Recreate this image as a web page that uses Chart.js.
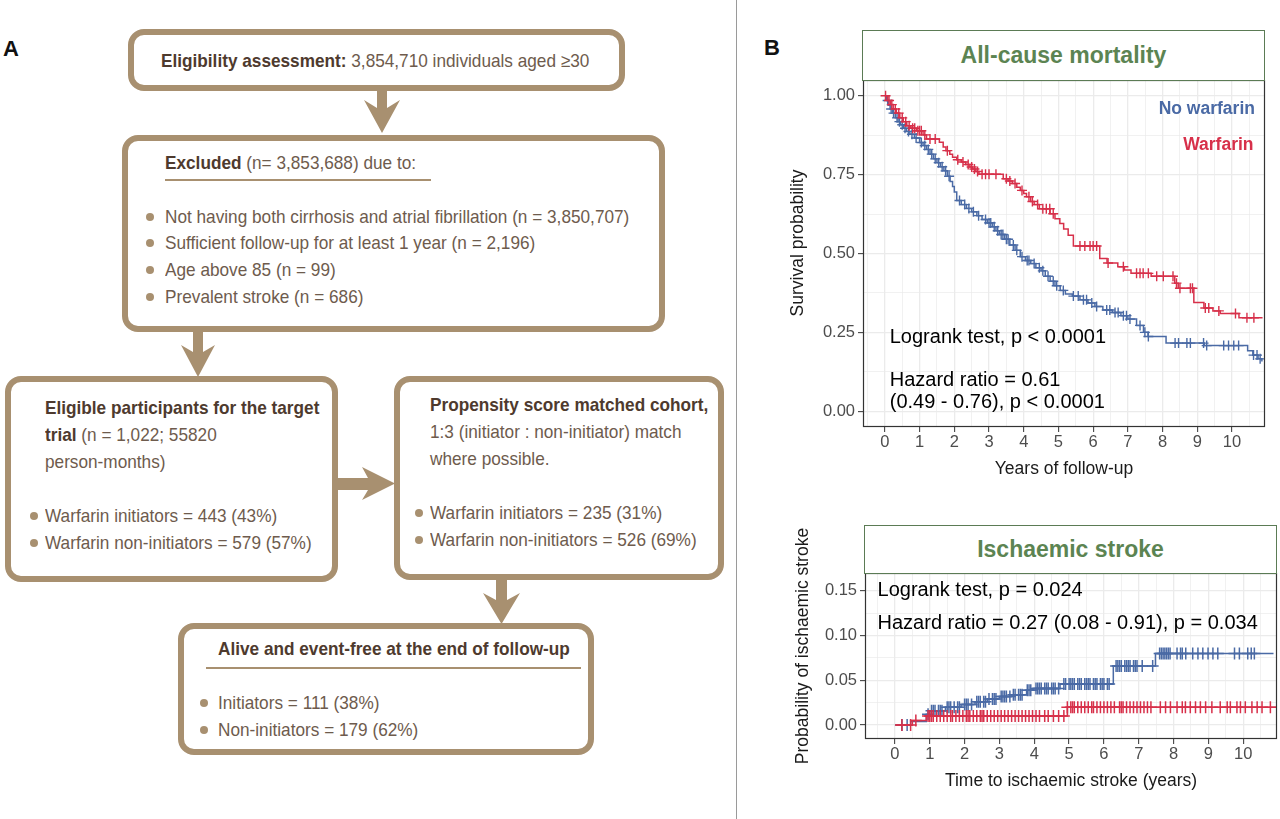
<!DOCTYPE html>
<html>
<head>
<meta charset="utf-8">
<script src="https://cdn.jsdelivr.net/npm/chart.js@4.4.1/dist/chart.umd.min.js"></script>
<style>
html, body { margin: 0; padding: 0; background: #fff; }
#page { position: relative; width: 1280px; height: 819px; overflow: hidden; font-family: "Liberation Sans", Arial, sans-serif; }
.box { position: absolute; box-sizing: border-box; border: 6px solid #a89070; border-radius: 16px; background: #fff; }
.t { position: absolute; white-space: nowrap; font-family: "Liberation Sans", Arial, sans-serif; font-size: 18.5px; line-height: 22px; color: #6e5b4d; transform: scaleX(0.93); transform-origin: 0 0; }
.t b { color: #4e3a2e; }
.dot { position: absolute; width: 8px; height: 8px; border-radius: 50%; background: #a89070; }
.rule { position: absolute; height: 2px; background: #a89070; }
.strip { position: absolute; box-sizing: border-box; border: 1.5px solid #5b7b55; background: #fff; color: #5c8452; font-weight: bold; font-size: 23px; text-align: center; }
.ytitle { position: absolute; white-space: nowrap; font-size: 17.5px; color: #1a1a1a; transform: translate(-50%, -50%) rotate(-90deg); }
.panel { position: absolute; font: bold 22px "Liberation Sans", Arial, sans-serif; line-height: 24px; color: #111; }
</style>
</head>
<body>
<div id="page">
  <div style="position:absolute;left:736px;top:0;width:1px;height:819px;background:#9a9a9a"></div>
  <div class="panel" style="left:3px;top:37px">A</div>
  <div class="panel" style="left:764px;top:36px">B</div>

  <svg style="position:absolute;left:0;top:0" width="740" height="819">
    <g fill="#a89070">
      <polygon points="377,88 377,108 364,100 382,133 400,100 387,108 387,88"/>
      <polygon points="193,329 193,352 181,345 198,377 215,345 203,352 203,329"/>
      <polygon points="336,478 368,478 362,467 395,483.5 362,500 368,490 336,490"/>
      <polygon points="496,578 496,600 483,593 501.5,624 520,593 507,600 507,578"/>
    </g>
  </svg>

  <div class="box" style="left:128px;top:29px;width:497px;height:62px"></div>
  <div class="t" style="left:161px;top:50px"><b>Eligibility assessment:</b> 3,854,710 individuals aged ≥30</div>

  <div class="box" style="left:122px;top:135px;width:543px;height:197px"></div>
  <div class="t" style="left:165px;top:152px"><b>Excluded</b> (n= 3,853,688) due to:</div>
  <div class="rule" style="left:165px;top:179px;width:266px"></div>
  <div class="dot" style="left:146px;top:213px"></div>
  <div class="t" style="left:165px;top:206px">Not having both cirrhosis and atrial fibrillation (n = 3,850,707)</div>
  <div class="dot" style="left:146px;top:239px"></div>
  <div class="t" style="left:165px;top:232px">Sufficient follow-up for at least 1 year (n = 2,196)</div>
  <div class="dot" style="left:146px;top:266px"></div>
  <div class="t" style="left:165px;top:259px">Age above 85 (n = 99)</div>
  <div class="dot" style="left:146px;top:293px"></div>
  <div class="t" style="left:165px;top:286px">Prevalent stroke (n = 686)</div>

  <div class="box" style="left:5px;top:376px;width:333px;height:206px"></div>
  <div class="t" style="left:45px;top:397px"><b>Eligible participants for the target</b></div>
  <div class="t" style="left:45px;top:424px"><b>trial</b> (n = 1,022; 55820</div>
  <div class="t" style="left:45px;top:451px">person-months)</div>
  <div class="dot" style="left:30px;top:512px"></div>
  <div class="t" style="left:45px;top:505px">Warfarin initiators = 443 (43%)</div>
  <div class="dot" style="left:30px;top:539px"></div>
  <div class="t" style="left:45px;top:532px">Warfarin non-initiators = 579 (57%)</div>

  <div class="box" style="left:394px;top:376px;width:330px;height:204px"></div>
  <div class="t" style="left:430px;top:394px"><b>Propensity score matched cohort,</b></div>
  <div class="t" style="left:430px;top:421px">1:3 (initiator : non-initiator) match</div>
  <div class="t" style="left:430px;top:448px">where possible.</div>
  <div class="dot" style="left:415px;top:509px"></div>
  <div class="t" style="left:430px;top:502px">Warfarin initiators = 235 (31%)</div>
  <div class="dot" style="left:415px;top:536px"></div>
  <div class="t" style="left:430px;top:529px">Warfarin non-initiators = 526 (69%)</div>

  <div class="box" style="left:178px;top:623px;width:416px;height:132px"></div>
  <div class="t" style="left:218px;top:638px"><b>Alive and event-free at the end of follow-up</b></div>
  <div class="rule" style="left:206px;top:667px;width:375px"></div>
  <div class="dot" style="left:200px;top:699px"></div>
  <div class="t" style="left:218px;top:692px">Initiators = 111 (38%)</div>
  <div class="dot" style="left:200px;top:726px"></div>
  <div class="t" style="left:218px;top:719px">Non-initiators = 179 (62%)</div>

  <div style="position:absolute;left:780px;top:80px;width:500px;height:404px"><canvas id="mortalityChart"></canvas></div>
  <div style="position:absolute;left:780px;top:573px;width:500px;height:223px"><canvas id="strokeChart"></canvas></div>

  <div class="strip" style="left:862px;top:30px;width:403px;height:51px;line-height:48px">All-cause mortality</div>
  <div class="strip" style="left:864px;top:525px;width:413px;height:49px;line-height:46px">Ischaemic stroke</div>
  <div class="ytitle" style="left:797px;top:243px">Survival probability</div>
  <div class="ytitle" style="left:802px;top:646px">Probability of ischaemic stroke</div>
</div>

<script>
// tick labels
const yearTicks = [0, 1, 2, 3, 4, 5, 6, 7, 8, 9, 10];
const survivalTicks = [0, 0.25, 0.5, 0.75, 1];
const strokeTicks = [0, 0.05, 0.1, 0.15];

const blue = '#4a6aa5';
const red = '#d7304a';

// all-cause mortality, no warfarin: step times (years) and survival
const mortNoWarfarinTime = [0, 0.05, 0.1, 0.15, 0.22, 0.3, 0.38, 0.45, 0.53, 0.62, 0.72, 0.85, 1.0, 1.1, 1.2, 1.3, 1.4, 1.5, 1.6, 1.7, 1.8, 1.88, 1.95, 2.0, 2.07, 2.2, 2.35, 2.5, 2.65, 2.8, 2.95, 3.1, 3.2, 3.3, 3.45, 3.6, 3.75, 3.9, 4.05, 4.2, 4.35, 4.5, 4.62, 4.76, 4.9, 5.05, 5.2, 5.4, 5.62, 5.85, 6.05, 6.28, 6.55, 6.8, 7.0, 7.25, 7.45, 7.58, 8.1, 9.2, 10.45, 10.6, 10.75, 10.86];
const mortNoWarfarinSurv = [1.0, 0.985, 0.97, 0.958, 0.945, 0.93, 0.918, 0.908, 0.897, 0.887, 0.878, 0.866, 0.852, 0.842, 0.83, 0.815, 0.8, 0.788, 0.775, 0.762, 0.745, 0.728, 0.712, 0.695, 0.668, 0.655, 0.643, 0.632, 0.62, 0.608, 0.597, 0.585, 0.572, 0.56, 0.545, 0.527, 0.51, 0.49, 0.478, 0.468, 0.455, 0.445, 0.428, 0.412, 0.398, 0.383, 0.372, 0.365, 0.353, 0.343, 0.332, 0.321, 0.313, 0.303, 0.292, 0.272, 0.25, 0.237, 0.216, 0.208, 0.192, 0.178, 0.166, 0.158];
const mortNoWarfarinCensor = [0.08, 0.18, 0.25, 0.35, 0.42, 0.5, 0.58, 0.68, 0.78, 0.9, 1.05, 1.15, 1.25, 1.35, 1.45, 1.55, 1.65, 1.75, 1.85, 2.15, 2.3, 2.42, 2.55, 2.7, 2.9, 3.0, 3.05, 3.15, 3.25, 3.35, 3.4, 3.5, 3.55, 3.7, 3.8, 3.95, 4.1, 4.15, 4.3, 4.45, 4.55, 4.7, 4.85, 4.95, 5.14, 5.43, 5.57, 5.72, 5.81, 5.96, 6.1, 6.39, 6.48, 6.63, 6.72, 6.87, 6.96, 7.06, 7.35, 7.49, 7.59, 8.36, 8.46, 8.7, 8.8, 9.18, 9.27, 9.76, 9.9, 10.05, 10.19, 10.62, 10.72, 10.81];

// all-cause mortality, warfarin
const mortWarfarinTime = [0, 0.08, 0.16, 0.24, 0.33, 0.43, 0.53, 0.63, 0.75, 0.91, 1.1, 1.2, 1.57, 1.68, 1.76, 1.87, 1.95, 2.07, 2.2, 2.33, 2.45, 2.52, 2.62, 2.71, 3.41, 3.55, 3.67, 3.8, 3.9, 4.0, 4.08, 4.2, 4.3, 4.45, 4.76, 4.9, 5.04, 5.15, 5.28, 5.43, 6.19, 6.4, 6.71, 6.9, 7.09, 7.67, 8.35, 8.45, 8.9, 9.19, 9.45, 9.66, 10.2, 10.88];
const mortWarfarinSurv = [1.0, 0.985, 0.972, 0.958, 0.945, 0.93, 0.918, 0.905, 0.897, 0.889, 0.876, 0.863, 0.853, 0.838, 0.826, 0.815, 0.805, 0.797, 0.79, 0.782, 0.774, 0.768, 0.76, 0.751, 0.737, 0.73, 0.722, 0.71, 0.70, 0.69, 0.68, 0.665, 0.655, 0.642, 0.626, 0.61, 0.595, 0.578, 0.558, 0.524, 0.484, 0.47, 0.458, 0.448, 0.437, 0.428, 0.406, 0.39, 0.345, 0.327, 0.318, 0.31, 0.296, 0.296];
const mortWarfarinCensor = [0.02, 0.12, 0.2, 0.3, 0.4, 0.5, 0.6, 0.7, 0.8, 0.86, 0.95, 1.0, 1.05, 1.15, 1.3, 1.45, 1.8, 2.1, 2.25, 2.4, 2.5, 2.58, 2.67, 2.8, 2.9, 3.0, 3.2, 3.5, 3.6, 3.75, 3.95, 4.15, 4.25, 4.4, 4.55, 4.65, 4.75, 4.85, 5.62, 5.76, 5.91, 6.0, 6.1, 6.43, 6.87, 7.25, 7.35, 7.44, 7.59, 7.83, 8.02, 8.3, 8.4, 8.5, 8.8, 8.86, 9.23, 9.33, 9.62, 10.1, 10.43, 10.63];

// ischaemic stroke, cumulative probability
const strokeNoWarfarinTime = [0, 0.45, 0.9, 1.0, 1.45, 1.9, 2.3, 2.65, 3.0, 3.35, 3.78, 3.97, 4.74, 6.27, 7.48, 10.87];
const strokeNoWarfarinProb = [0, 0.004, 0.012, 0.016, 0.02, 0.023, 0.026, 0.029, 0.032, 0.034, 0.039, 0.041, 0.046, 0.066, 0.08, 0.08];
const strokeNoWarfarinCensor = [0.2, 0.35, 0.95, 1.05, 1.1, 1.15, 1.25, 1.3, 1.35, 1.5, 1.55, 1.6, 1.7, 1.8, 1.85, 2.0, 2.05, 2.1, 2.2, 2.35, 2.4, 2.45, 2.55, 2.6, 2.7, 2.8, 2.85, 2.9, 3.05, 3.1, 3.15, 3.2, 3.3, 3.4, 3.45, 3.55, 3.6, 3.65, 3.8, 3.85, 3.9, 4.05, 4.1, 4.15, 4.2, 4.3, 4.35, 4.4, 4.5, 4.55, 4.6, 4.7, 4.85, 4.9, 5.0, 5.05, 5.1, 5.15, 5.25, 5.3, 5.35, 5.45, 5.5, 5.55, 5.6, 5.7, 5.75, 5.8, 5.9, 5.95, 6.0, 6.1, 6.15, 6.35, 6.4, 6.45, 6.5, 6.6, 6.65, 6.7, 6.75, 6.85, 6.9, 6.95, 7.1, 7.4, 7.6, 7.65, 7.7, 7.75, 7.8, 7.85, 7.9, 8.1, 8.2, 8.25, 8.35, 8.55, 8.7, 8.84, 8.99, 9.13, 9.27, 9.75, 9.89, 10.13, 10.23, 10.32];

const strokeWarfarinTime = [0, 0.5, 0.9, 4.95, 10.97];
const strokeWarfarinProb = [0, 0.005, 0.01, 0.02, 0.02];
const strokeWarfarinCensor = [0.2, 0.45, 0.6, 0.95, 1.0, 1.05, 1.1, 1.2, 1.3, 1.4, 1.5, 1.6, 1.65, 1.75, 1.85, 1.95, 2.05, 2.1, 2.15, 2.25, 2.35, 2.45, 2.5, 2.55, 2.65, 2.75, 2.85, 2.95, 3.05, 3.15, 3.25, 3.35, 3.45, 3.55, 3.65, 3.75, 3.85, 3.95, 4.05, 4.15, 4.3, 4.4, 4.55, 4.7, 4.85, 4.95, 5.05, 5.1, 5.15, 5.25, 5.35, 5.45, 5.55, 5.65, 5.7, 5.8, 5.9, 6.0, 6.1, 6.2, 6.3, 6.45, 6.5, 6.55, 6.65, 6.75, 6.85, 6.95, 7.05, 7.15, 7.25, 7.35, 7.62, 7.77, 7.91, 8.1, 8.25, 8.34, 8.48, 8.63, 8.77, 8.92, 9.1, 9.34, 9.54, 9.63, 9.82, 9.92, 10.06, 10.25, 10.4, 10.54, 10.78];

const fontFamily = '"Liberation Sans", Arial, sans-serif';

function stepValue(times, values, t) {
    let v = values[0];
    for (let i = 0; i < times.length; i++) {
        if (times[i] <= t) v = values[i];
    }
    return v;
}

function isMajor(v, majors) {
    return majors.some(m => Math.abs(m - v) < 1e-6);
}

// major ticks plus the half-way minor grid lines that fall inside the range
function gridValues(majors, min, max) {
    const half = (majors[1] - majors[0]) / 2;
    const vals = [];
    majors.forEach(m => { vals.push(m - half, m); });
    vals.push(majors[majors.length - 1] + half);
    return vals.filter(v => v > min && v < max).map(v => Math.round(v * 10000) / 10000);
}

const plotText = {
    id: 'plotText',
    afterDraw(chart, args, opts) {
        const ctx = chart.ctx;
        const a = chart.chartArea;
        ctx.save();
        ctx.strokeStyle = '#333';
        ctx.lineWidth = 1.2;
        ctx.strokeRect(a.left + 0.5, a.top + 0.5, a.right - a.left - 1, a.bottom - a.top - 1);
        opts.items.forEach(it => {
            ctx.font = it.font;
            ctx.fillStyle = it.color;
            ctx.textAlign = it.align;
            ctx.textBaseline = 'middle';
            ctx.fillText(it.text, chart.scales.x.getPixelForValue(it.x), chart.scales.y.getPixelForValue(it.y));
        });
        ctx.restore();
    }
};

function gridOptions(majors) {
    return {
        color: '#ebebeb',
        lineWidth: c => (c.tick && isMajor(c.tick.value, majors)) ? 1.3 : 0.7,
        tickColor: c => (c.tick && isMajor(c.tick.value, majors)) ? '#333' : 'rgba(0,0,0,0)',
        tickLength: 5,
        tickWidth: 1
    };
}

function kmChart(canvasId, setup) {
    const datasets = [];
    setup.groups.forEach(g => {
        datasets.push({
            label: g.name,
            data: g.times.map((t, i) => ({ x: t, y: g.values[i] })),
            borderColor: g.color,
            borderWidth: 1.5,
            stepped: true,
            pointRadius: 0,
            fill: false
        });
        datasets.push({
            label: g.name + ' (censored)',
            data: g.censor.map(t => ({ x: t, y: stepValue(g.times, g.values, t) })),
            showLine: false,
            pointStyle: 'cross',
            pointRadius: setup.crossSize,
            borderColor: g.color,
            backgroundColor: g.color,
            pointBorderWidth: setup.crossWidth
        });
    });

    return new Chart(document.getElementById(canvasId), {
        type: 'line',
        data: { datasets: datasets },
        plugins: [plotText],
        options: {
            responsive: true,
            maintainAspectRatio: false,
            animation: false,
            events: [],
            layout: { autoPadding: false, padding: { left: 0, top: 0, bottom: 0, right: setup.padRight } },
            plugins: {
                legend: { display: false },
                tooltip: { enabled: false },
                plotText: { items: setup.texts }
            },
            scales: {
                x: {
                    type: 'linear',
                    min: setup.xMin,
                    max: setup.xMax,
                    afterBuildTicks: s => { s.ticks = gridValues(yearTicks, setup.xMin, setup.xMax).map(v => ({ value: v })); },
                    afterFit: s => { s.height = 57; s.paddingLeft = 0; s.paddingRight = 0; },
                    ticks: {
                        autoSkip: false,
                        maxRotation: 0,
                        padding: 1,
                        color: '#4d4d4d',
                        font: { family: fontFamily, size: 16.5 },
                        callback: v => isMajor(v, yearTicks) ? String(Math.round(v)) : ''
                    },
                    grid: gridOptions(yearTicks),
                    border: { display: false },
                    title: {
                        display: true,
                        text: setup.xTitle,
                        color: '#1a1a1a',
                        font: { family: fontFamily, size: 17.5 },
                        padding: { top: 0, bottom: 4 }
                    }
                },
                y: {
                    type: 'linear',
                    min: setup.yMin,
                    max: setup.yMax,
                    afterBuildTicks: s => { s.ticks = gridValues(setup.yTicks, setup.yMin, setup.yMax).map(v => ({ value: v })); },
                    afterFit: s => { s.width = setup.yAxisWidth; s.paddingTop = 0; s.paddingBottom = 0; },
                    ticks: {
                        autoSkip: false,
                        padding: 3,
                        color: '#4d4d4d',
                        font: { family: fontFamily, size: 16.5 },
                        callback: v => isMajor(v, setup.yTicks) ? v.toFixed(2) : ''
                    },
                    grid: gridOptions(setup.yTicks),
                    border: { display: false }
                }
            }
        }
    });
}

kmChart('mortalityChart', {
    xMin: -0.63, xMax: 10.95, yMin: -0.05, yMax: 1.05,
    yTicks: survivalTicks, yAxisWidth: 83, padRight: 15, crossSize: 5, crossWidth: 1.4,
    xTitle: 'Years of follow-up',
    groups: [
        { name: 'Warfarin', color: red, times: mortWarfarinTime, values: mortWarfarinSurv, censor: mortWarfarinCensor },
        { name: 'No warfarin', color: blue, times: mortNoWarfarinTime, values: mortNoWarfarinSurv, censor: mortNoWarfarinCensor }
    ],
    texts: [
        { text: 'No warfarin', x: 10.66, y: 0.958, align: 'right', color: blue, font: 'bold 17.5px ' + fontFamily },
        { text: 'Warfarin', x: 10.62, y: 0.842, align: 'right', color: red, font: 'bold 17.5px ' + fontFamily },
        { text: 'Logrank test, p < 0.0001', x: 0.14, y: 0.233, align: 'left', color: '#000', font: '20px ' + fontFamily },
        { text: 'Hazard ratio = 0.61', x: 0.14, y: 0.099, align: 'left', color: '#000', font: '20px ' + fontFamily },
        { text: '(0.49 - 0.76), p < 0.0001', x: 0.14, y: 0.0265, align: 'left', color: '#000', font: '20px ' + fontFamily }
    ]
});

kmChart('strokeChart', {
    xMin: -0.86, xMax: 10.97, yMin: -0.0156, yMax: 0.17,
    yTicks: strokeTicks, yAxisWidth: 85, padRight: 3, crossSize: 6, crossWidth: 1.5,
    xTitle: 'Time to ischaemic stroke (years)',
    groups: [
        { name: 'Warfarin', color: red, times: strokeWarfarinTime, values: strokeWarfarinProb, censor: strokeWarfarinCensor },
        { name: 'No warfarin', color: blue, times: strokeNoWarfarinTime, values: strokeNoWarfarinProb, censor: strokeNoWarfarinCensor }
    ],
    texts: [
        { text: 'Logrank test, p = 0.024', x: -0.5, y: 0.15, align: 'left', color: '#000', font: '20px ' + fontFamily },
        { text: 'Hazard ratio = 0.27 (0.08 - 0.91), p = 0.034', x: -0.5, y: 0.114, align: 'left', color: '#000', font: '20px ' + fontFamily }
    ]
});
</script>
</body>
</html>
